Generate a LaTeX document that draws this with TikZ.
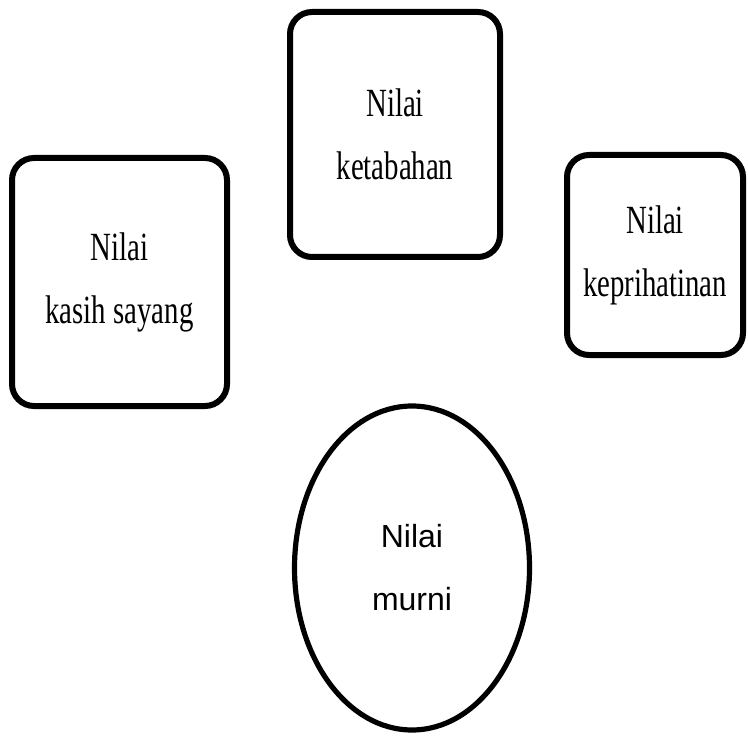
\documentclass[tikz,border=0pt]{standalone}
\usepackage{fontspec}
\setmainfont{Liberation Serif}
\newfontfamily\murnifont{Liberation Sans}
\usepackage{tikz}
\usetikzlibrary{shapes.geometric}

\newcommand{\slim}[1]{\scalebox{0.72}[1]{#1}}

\begin{document}
\begin{tikzpicture}[x=0.5pt,y=-0.5pt,
                    value node/.style={rectangle,draw,line width=3pt,rounded corners=11pt,
                      align=center,inner sep=0pt,font=\fontsize{20pt}{31.5pt}\selectfont},
                    core node/.style={ellipse,draw,line width=2.6pt,inner sep=0pt,
                      align=center,minimum width=117.5pt,minimum height=162pt,
                      font=\murnifont\fontsize{16pt}{31.5pt}\selectfont}]
  \useasboundingbox (0,0) rectangle (748,737);

  \node[value node,minimum width=107.5pt,minimum height=124pt] (kasih) at (119.5,282)
    {\slim{Nilai}\\\slim{kasih sayang}};
  \node[value node,minimum width=105pt,minimum height=122.5pt] (tabah) at (395,134.5)
    {\slim{Nilai}\\\slim{ketabahan}};
  \node[value node,minimum width=88pt,minimum height=100pt] (prihatin) at (655,255)
    {\slim{Nilai}\\\slim{keprihatinan}};

  \node[core node] (murni) at (412,568) {Nilai\\murni};
\end{tikzpicture}
\end{document}
